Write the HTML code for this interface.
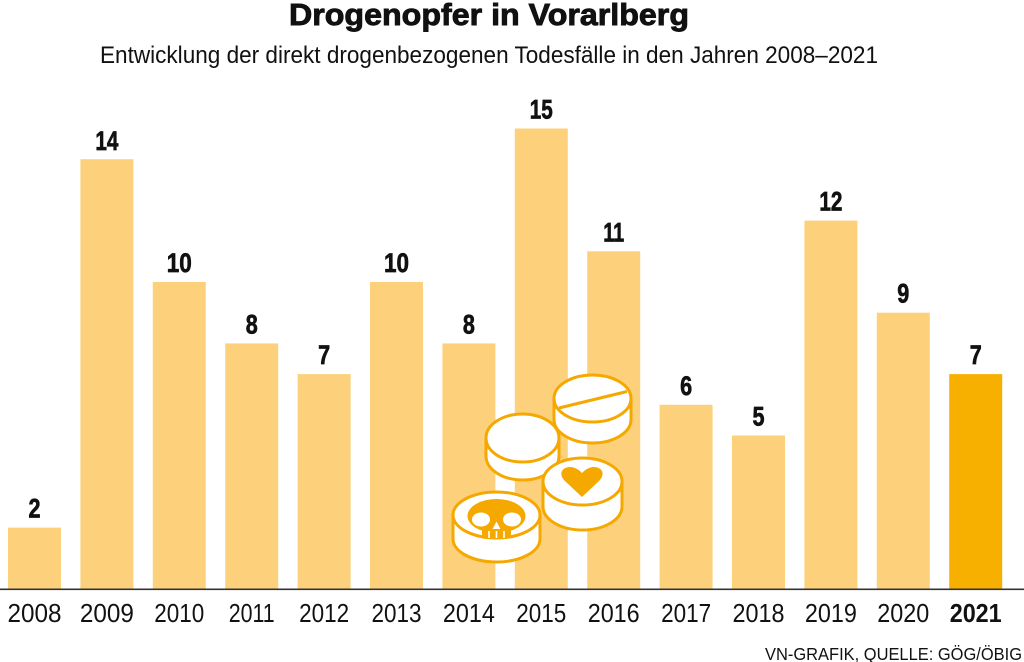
<!DOCTYPE html>
<html>
<head>
<meta charset="utf-8">
<style>
  html, body { margin:0; padding:0; background:#fff; }
  svg { display:block; }
  text { font-family: "Liberation Sans", "DejaVu Sans", sans-serif; fill:#111; }
</style>
</head>
<body>
<svg width="1024" height="662" viewBox="0 0 1024 662" xmlns="http://www.w3.org/2000/svg">
  <!-- Title -->
  <text x="289" y="25" font-size="31" font-weight="bold" stroke="#111" stroke-width="0.9" textLength="400" lengthAdjust="spacingAndGlyphs">Drogenopfer in Vorarlberg</text>
  <text x="100" y="63" font-size="24.5" textLength="778" lengthAdjust="spacingAndGlyphs">Entwicklung der direkt drogenbezogenen Todesfälle in den Jahren 2008–2021</text>

  <!-- Bars -->
  <g fill="#FDD17C">
    <rect x="8" y="527.6" width="53" height="61.4"/>
    <rect x="80.4" y="159.2" width="53" height="429.8"/>
    <rect x="152.8" y="282" width="53" height="307"/>
    <rect x="225.2" y="343.4" width="53" height="245.6"/>
    <rect x="297.6" y="374.1" width="53" height="214.9"/>
    <rect x="370" y="282" width="53" height="307"/>
    <rect x="442.4" y="343.4" width="53" height="245.6"/>
    <rect x="514.8" y="128.5" width="53" height="460.5"/>
    <rect x="587.2" y="251.3" width="53" height="337.7"/>
    <rect x="659.6" y="404.8" width="53" height="184.2"/>
    <rect x="732" y="435.5" width="53" height="153.5"/>
    <rect x="804.4" y="220.6" width="53" height="368.4"/>
    <rect x="876.8" y="312.7" width="53" height="276.3"/>
  </g>
  <rect x="949.2" y="374.1" width="53" height="214.9" fill="#F7B000"/>

  <!-- Value labels -->
  <g font-size="27" font-weight="bold" text-anchor="middle" stroke="#111" stroke-width="0.7">
    <text x="34.5" y="517.6" textLength="12" lengthAdjust="spacingAndGlyphs">2</text>
    <text x="106.9" y="150" textLength="23" lengthAdjust="spacingAndGlyphs">14</text>
    <text x="179.3" y="272" textLength="25" lengthAdjust="spacingAndGlyphs">10</text>
    <text x="251.7" y="333.4" textLength="12" lengthAdjust="spacingAndGlyphs">8</text>
    <text x="324.1" y="364.1" textLength="12" lengthAdjust="spacingAndGlyphs">7</text>
    <text x="396.5" y="272" textLength="25" lengthAdjust="spacingAndGlyphs">10</text>
    <text x="468.9" y="333.4" textLength="12" lengthAdjust="spacingAndGlyphs">8</text>
    <text x="541.3" y="118.5" textLength="23" lengthAdjust="spacingAndGlyphs">15</text>
    <text x="613.7" y="241.3" textLength="21" lengthAdjust="spacingAndGlyphs">11</text>
    <text x="686.1" y="394.8" textLength="12" lengthAdjust="spacingAndGlyphs">6</text>
    <text x="758.5" y="425.5" textLength="12" lengthAdjust="spacingAndGlyphs">5</text>
    <text x="830.9" y="210.6" textLength="23" lengthAdjust="spacingAndGlyphs">12</text>
    <text x="903.3" y="302.7" textLength="12" lengthAdjust="spacingAndGlyphs">9</text>
    <text x="975.7" y="364.1" textLength="12" lengthAdjust="spacingAndGlyphs">7</text>
  </g>

  <!-- Pills illustration -->
  <g stroke="#F5A800" stroke-width="3" fill="#fff" stroke-linejoin="round">
    <!-- Pill A (split line) -->
    <path d="M554,398.5 L554,419.5 A38.5,23.5 0 0 0 631,419.5 L631,398.5 Z"/>
    <ellipse cx="592.5" cy="398.5" rx="38.5" ry="23.5"/>
    <line x1="559" y1="408" x2="627" y2="391.5"/>
    <!-- Pill B (plain) -->
    <path d="M486,438 L486,456 A36.5,24 0 0 0 559,456 L559,438 Z"/>
    <ellipse cx="522.5" cy="438" rx="36.5" ry="24"/>
    <!-- Pill C (heart) -->
    <path d="M543,481.5 L543,506.5 A39.5,23.5 0 0 0 622,506.5 L622,481.5 Z"/>
    <ellipse cx="582.5" cy="481.5" rx="39.5" ry="23.5"/>
    <!-- Pill D (skull) -->
    <path d="M453,515 L453,539 A43.5,23 0 0 0 540,539 L540,515 Z"/>
    <ellipse cx="496.5" cy="515" rx="43.5" ry="23"/>
  </g>
  <!-- heart -->
  <path d="M582,497 L565,481 C558,474 562,467 570,467 C575,467 579,470 582,473 C585,470 589,467 594,467 C602,467 606,474 599,481 Z" fill="#F5A800"/>
  <!-- skull -->
  <g>
    <ellipse cx="496.5" cy="516" rx="29" ry="17" fill="#F5A800"/>
    <rect x="482" y="522" width="29" height="15.5" rx="3" fill="#F5A800"/>
    <ellipse cx="481" cy="519.5" rx="9" ry="7" fill="#fff"/>
    <ellipse cx="512" cy="519.5" rx="9" ry="7" fill="#fff"/>
    <polygon points="496.5,521.5 492.5,529 500.5,529" fill="#fff"/>
    <g stroke="#fff" stroke-width="1.6">
      <line x1="489" y1="531" x2="489" y2="538"/>
      <line x1="496.5" y1="531" x2="496.5" y2="538"/>
      <line x1="504" y1="531" x2="504" y2="538"/>
    </g>
  </g>

  <!-- Axis line -->
  <rect x="0" y="588.5" width="1024" height="1.6" fill="#333"/>

  <!-- Year labels -->
  <g font-size="26" text-anchor="middle">
    <text x="34.5" y="622" textLength="54" lengthAdjust="spacingAndGlyphs">2008</text>
    <text x="106.9" y="622" textLength="54" lengthAdjust="spacingAndGlyphs">2009</text>
    <text x="179.3" y="622" textLength="50" lengthAdjust="spacingAndGlyphs">2010</text>
    <text x="251.7" y="622" textLength="46" lengthAdjust="spacingAndGlyphs">2011</text>
    <text x="324.1" y="622" textLength="50" lengthAdjust="spacingAndGlyphs">2012</text>
    <text x="396.5" y="622" textLength="50" lengthAdjust="spacingAndGlyphs">2013</text>
    <text x="468.9" y="622" textLength="52" lengthAdjust="spacingAndGlyphs">2014</text>
    <text x="541.3" y="622" textLength="50" lengthAdjust="spacingAndGlyphs">2015</text>
    <text x="613.7" y="622" textLength="52" lengthAdjust="spacingAndGlyphs">2016</text>
    <text x="686.1" y="622" textLength="50" lengthAdjust="spacingAndGlyphs">2017</text>
    <text x="758.5" y="622" textLength="52" lengthAdjust="spacingAndGlyphs">2018</text>
    <text x="830.9" y="622" textLength="52" lengthAdjust="spacingAndGlyphs">2019</text>
    <text x="903.3" y="622" textLength="52" lengthAdjust="spacingAndGlyphs">2020</text>
    <text x="975.7" y="622" font-weight="bold" textLength="52" lengthAdjust="spacingAndGlyphs">2021</text>
  </g>

  <!-- Source -->
  <text x="765" y="660" font-size="17.5" textLength="257" lengthAdjust="spacingAndGlyphs">VN-GRAFIK, QUELLE: GÖG/ÖBIG</text>
</svg>
</body>
</html>
